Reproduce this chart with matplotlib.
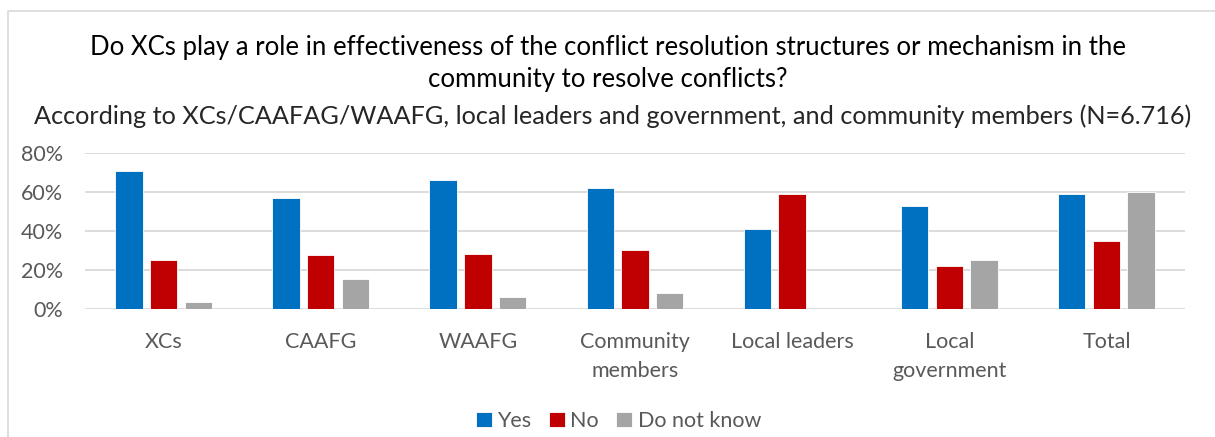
import numpy as np
import matplotlib
matplotlib.use("Agg")
import matplotlib.pyplot as plt
from matplotlib.patches import Rectangle

categories = ["XCs", "CAAFG", "WAAFG", "Community\nmembers", "Local leaders",
              "Local\ngovernment", "Total"]
yes = [71, 57, 66, 62, 41, 53, 59]
no = [25, 27.5, 28, 30, 59, 22, 35]
dont_know = [3.5, 15.5, 6, 8, 0, 25, 60]
series_names = ["Yes", "No", "Do not know"]
colors = ["#0070C0", "#C00000", "#A5A5A5"]

plt.rcParams['font.family'] = ['Lato', 'DejaVu Sans']

fig = plt.figure(figsize=(12.15, 4.37), dpi=100)
ax = fig.add_axes([85/1215, 1-308.7/437, 1100/1215, 155.4/437])

x = np.arange(len(categories))
w = 0.174
step = 0.221
for i, (vals, name, c) in enumerate(zip([yes, no, dont_know], series_names, colors)):
    ax.bar(x + (i-1)*step, np.array(vals)/100, width=w, color=c,
           edgecolor="white", linewidth=0.6, label=name, zorder=3)

ax.set_xlim(-0.5, len(categories)-0.5)
ax.set_ylim(0, 0.8)
ax.set_yticks([0, 0.2, 0.4, 0.6, 0.8])
ax.set_yticklabels(["0%", "20%", "40%", "60%", "80%"])
ax.yaxis.grid(True, color="#D9D9D9", linewidth=1.3, zorder=0)
ax.set_axisbelow(True)
for s in ax.spines.values():
    s.set_visible(False)
ax.tick_params(axis="both", length=0, colors="#595959", labelsize=15.5)
ax.tick_params(axis="y", pad=16)
ax.set_xticks(x)
ax.set_xticklabels(categories, linespacing=1.55)
ax.tick_params(axis="x", pad=17)

fig.text(0.5, 1-47/437, "Do XCs play a role in effectiveness of the conflict resolution structures or mechanism in the",
         ha="center", va="center", fontsize=18.5, color="black")
fig.text(0.5, 1-80/437, "community to resolve conflicts?",
         ha="center", va="center", fontsize=18.5, color="black")
fig.text(0.504, 1-116/437, "According to XCs/CAAFAG/WAAFG, local leaders and government, and community members (N=6.716)",
         ha="center", va="center", fontsize=18.2, color="#262626")

leg = fig.legend(loc="center", bbox_to_anchor=(0.509, 1-421/437), ncol=3, frameon=False,
                 fontsize=15.5, handlelength=0.75, handleheight=0.75, handletextpad=0.25,
                 columnspacing=0.8)
for t in leg.get_texts():
    t.set_color("#595959")

fig.patches.append(Rectangle((8/1215, -0.1), 1.2, 1-11/437+0.1, transform=fig.transFigure,
                             fill=False, edgecolor="#D9D9D9", linewidth=1.2))

fig.savefig("out.png", dpi=100)
